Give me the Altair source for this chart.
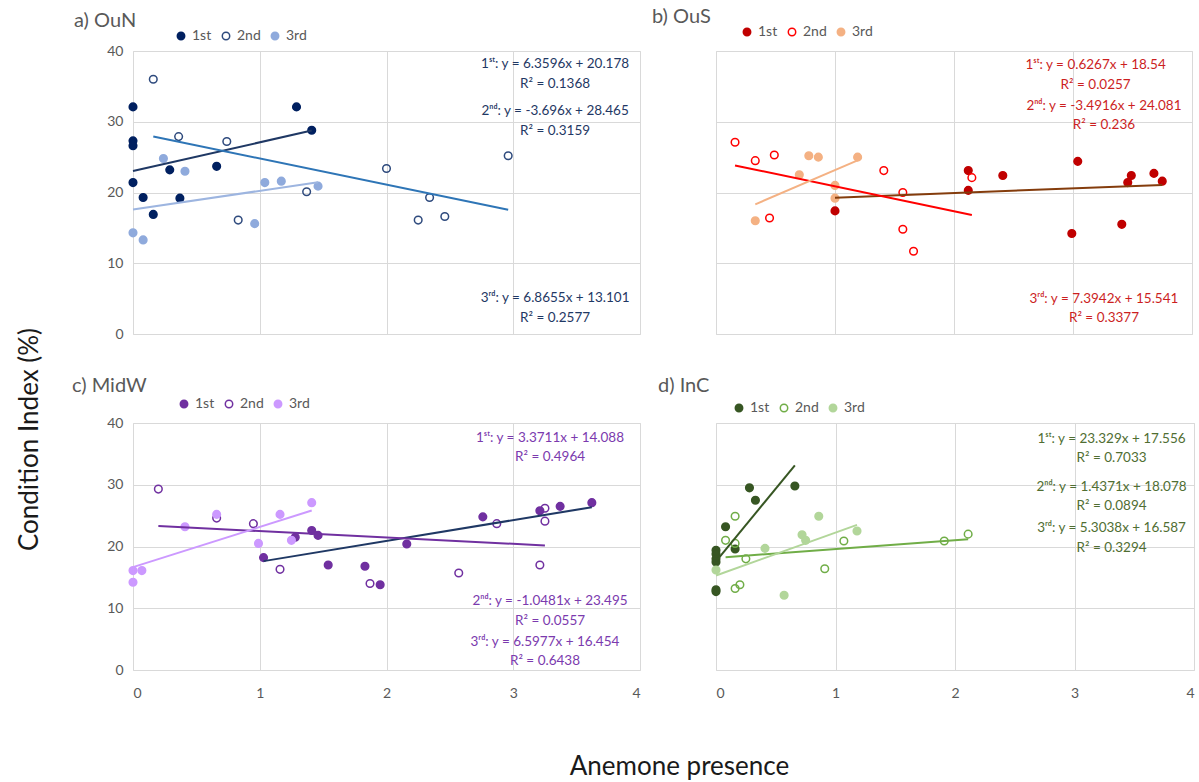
import altair as alt
import pandas as pd

FONT = "Lato"
GRID = "#D9D9D9"
LABEL = "#595959"
SERIES = ["1st", "2nd", "3rd"]

# ---------------- data ----------------
# a) OuN
a1_x = [0, 0, 0, 0, 0.08, 0.16, 0.29, 0.37, 0.66, 1.29, 1.41]
a1_y = [32.1, 27.3, 26.6, 21.4, 19.3, 16.9, 23.2, 19.2, 23.7, 32.1, 28.8]
a2_x = [0.16, 0.36, 0.74, 0.83, 1.37, 2.0, 2.25, 2.34, 2.46, 2.96]
a2_y = [36.0, 27.9, 27.2, 16.1, 20.1, 23.4, 16.1, 19.3, 16.6, 25.2]
a3_x = [0, 0.08, 0.24, 0.41, 0.96, 1.04, 1.17, 1.46]
a3_y = [14.3, 13.3, 24.8, 23.0, 15.6, 21.4, 21.6, 20.9]
a_text = ["1ˢᵗ: y = 6.3596x + 20.178", "R² = 0.1368",
          "2ⁿᵈ: y = -3.696x + 28.465", "R² = 0.3159",
          "3ʳᵈ: y = 6.8655x + 13.101", "R² = 0.2577"]
a_tx = [3.33, 3.33, 3.33, 3.33, 3.33, 3.33]
a_ty = [38.1, 35.3, 31.5, 28.7, 5.1, 2.3]

# b) OuS
b1_x = [1.0, 2.12, 2.12, 2.41, 3.04, 2.99, 3.41, 3.46, 3.49, 3.68, 3.75]
b1_y = [17.4, 23.1, 20.3, 22.4, 24.4, 14.2, 15.5, 21.4, 22.4, 22.7, 21.6]
b2_x = [0.16, 0.33, 0.49, 0.45, 1.41, 1.57, 1.57, 1.66, 2.15]
b2_y = [27.1, 24.5, 25.3, 16.4, 23.1, 20.0, 14.8, 11.7, 22.1]
b3_x = [0.33, 0.70, 0.78, 0.86, 1.0, 1.0, 1.19]
b3_y = [16.0, 22.5, 25.2, 25.0, 21.0, 19.2, 25.0]
b_text = ["1ˢᵗ: y = 0.6267x + 18.54", "R² = 0.0257",
          "2ⁿᵈ: y = -3.4916x + 24.081", "R² = 0.236",
          "3ʳᵈ: y = 7.3942x + 15.541", "R² = 0.3377"]
b_tx = [3.19, 3.19, 3.26, 3.26, 3.26, 3.26]
b_ty = [38.0, 35.2, 32.2, 29.5, 4.9, 2.3]

# c) MidW
c1_x = [1.03, 1.28, 1.41, 1.46, 1.54, 1.83, 1.95, 2.16, 2.76, 3.21, 3.37, 3.62]
c1_y = [18.2, 21.5, 22.6, 21.8, 17.0, 16.8, 13.8, 20.4, 24.8, 25.8, 26.5, 27.1]
c2_x = [0.2, 0.66, 0.95, 1.16, 1.87, 2.57, 2.87, 3.21, 3.25, 3.25]
c2_y = [29.3, 24.6, 23.7, 16.3, 14.0, 15.7, 23.7, 17.0, 26.2, 24.1]
c3_x = [0, 0, 0.07, 0.41, 0.66, 0.99, 1.16, 1.25, 1.41]
c3_y = [14.2, 16.1, 16.1, 23.2, 25.2, 20.5, 25.2, 21.0, 27.1]
c_text = ["1ˢᵗ: y = 3.3711x + 14.088", "R² = 0.4964",
          "2ⁿᵈ: y = -1.0481x + 23.495", "R² = 0.0557",
          "3ʳᵈ: y = 6.5977x + 16.454", "R² = 0.6438"]
c_tx = [3.29, 3.29, 3.29, 3.29, 3.25, 3.25]
c_ty = [37.6, 34.5, 11.2, 7.9, 4.6, 1.5]

# d) InC
d1_x = [0, 0, 0, 0, 0, 0, 0.08, 0.16, 0.28, 0.33, 0.66]
d1_y = [19.4, 18.8, 18.0, 17.5, 13.0, 12.7, 23.2, 19.6, 29.5, 27.5, 29.8]
d2_x = [0.08, 0.16, 0.16, 0.2, 0.16, 0.25, 0.91, 1.07, 1.91, 2.11]
d2_y = [21.0, 24.9, 20.5, 13.8, 13.2, 18.0, 16.4, 20.9, 20.9, 22.0]
d3_x = [0, 0.41, 0.57, 0.72, 0.75, 0.86, 1.18]
d3_y = [16.2, 19.7, 12.1, 21.9, 21.0, 24.9, 22.5]
d_text = ["1ˢᵗ: y = 23.329x + 17.556", "R² = 0.7033",
          "2ⁿᵈ: y = 1.4371x + 18.078", "R² = 0.0894",
          "3ʳᵈ: y = 5.3038x + 16.587", "R² = 0.3294"]
d_tx = [3.31, 3.31, 3.31, 3.31, 3.31, 3.31]
d_ty = [37.4, 34.3, 29.7, 26.6, 23.0, 19.8]

x_ticks = [0, 1, 2, 3, 4]
y_ticks = [0, 10, 20, 30, 40]


def panel(xs, ys, stroke_cols, fill_cols, line_cols, texts, tx, ty, text_col,
          title, title_dx, title_dy, leg_x, leg_y, width, height,
          x_labels, y_labels, x_title=None, y_title=None):
    rows = []
    for name, xv, yv in zip(SERIES, xs, ys):
        for a, b in zip(xv, yv):
            rows.append({"series": name, "x": a, "y": b})
    df = pd.DataFrame(rows)

    xscale = alt.Scale(domain=[0, 4], nice=False, zero=False)
    yscale = alt.Scale(domain=[0, 40], nice=False)

    xaxis_kw = dict(values=x_ticks, grid=True, gridColor=GRID, gridWidth=1,
                    domain=False, ticks=False, tickSize=0, labels=x_labels,
                    labelFont=FONT, labelFontSize=14, labelColor=LABEL,
                    labelPadding=16, title=x_title)
    if x_title:
        xaxis_kw.update(titleFont=FONT, titleFontSize=26, titleFontWeight="normal",
                        titleColor="#1a1a1a", titleX=546, titleY=96,
                        titleAlign="center", titleBaseline="middle")
    yaxis_kw = dict(values=y_ticks, grid=True, gridColor=GRID, gridWidth=1,
                    domain=False, ticks=False, tickSize=0, labels=y_labels,
                    labelFont=FONT, labelFontSize=14, labelColor=LABEL,
                    labelPadding=10, title=y_title)
    if y_title:
        yaxis_kw.update(titleFont=FONT, titleFontSize=26, titleFontWeight="normal",
                        titleColor="#1a1a1a", titleX=-104, titleY=388,
                        titleAngle=270, titleAlign="center", titleBaseline="middle")
    xaxis = alt.Axis(**xaxis_kw)
    yaxis = alt.Axis(**yaxis_kw)

    legend = alt.Legend(orient="none", legendX=leg_x, legendY=leg_y,
                        direction="horizontal", title=None, symbolType="circle",
                        symbolSize=55, symbolStrokeWidth=1.5, labelFont=FONT,
                        labelFontSize=14, labelColor=LABEL, labelOffset=4,
                        columnPadding=7, padding=0)

    pts = alt.Chart(df).mark_point(shape="circle", size=58, strokeWidth=1.5,
                                   opacity=1).encode(
        x=alt.X("x:Q", scale=xscale, axis=xaxis),
        y=alt.Y("y:Q", scale=yscale, axis=yaxis),
        color=alt.Color("series:N", scale=alt.Scale(domain=SERIES, range=stroke_cols),
                        legend=legend),
        fill=alt.Fill("series:N", scale=alt.Scale(domain=SERIES, range=fill_cols),
                      legend=legend),
    )

    lines = []
    for name, col in zip(SERIES, line_cols):
        lines.append(
            alt.Chart(df).transform_filter(alt.datum.series == name)
            .transform_regression("x", "y")
            .mark_line(color=col, strokeWidth=2)
            .encode(x=alt.X("x:Q", scale=xscale, axis=xaxis),
                    y=alt.Y("y:Q", scale=yscale, axis=yaxis))
        )

    ann = pd.DataFrame({"t": texts, "x": tx, "y": ty})
    txt = alt.Chart(ann).mark_text(font=FONT, fontSize=13.5, color=text_col,
                                   align="center", baseline="middle").encode(
        x=alt.X("x:Q", scale=xscale, axis=xaxis),
        y=alt.Y("y:Q", scale=yscale, axis=yaxis), text="t:N")

    return alt.layer(pts, *lines, txt).properties(
        width=width, height=height,
        title=alt.TitleParams(text=title, anchor="start", frame="group",
                              font=FONT, fontSize=20, fontWeight="normal",
                              color=LABEL, dx=title_dx, dy=title_dy, offset=0),
    )


pa = panel([a1_x, a2_x, a3_x], [a1_y, a2_y, a3_y],
           ["#002060", "#2E4A7D", "#8FAADC"], ["#002060", "transparent", "#8FAADC"],
           ["#1F3864", "#2E75B6", "#9DB5E0"], a_text, a_tx, a_ty, "#1F3864",
           "a) OuN", -59, 2, 41, -22, 507, 283, False, True,
           y_title="Condition Index (%)")
pb = panel([b1_x, b2_x, b3_x], [b1_y, b2_y, b3_y],
           ["#C00000", "#FF0000", "#F4B183"], ["#C00000", "transparent", "#F4B183"],
           ["#843C0C", "#FF0000", "#F4B183"], b_text, b_tx, b_ty, "#CC1F1F",
           "b) OuS", -64, 2, 24, -26, 476, 283, False, False)
pc = panel([c1_x, c2_x, c3_x], [c1_y, c2_y, c3_y],
           ["#7030A0", "#7030A0", "#CC99FF"], ["#7030A0", "transparent", "#CC99FF"],
           ["#1F3864", "#7030A0", "#CC99FF"], c_text, c_tx, c_ty, "#7B3AAE",
           "c) MidW", -61, -1, 44, -26, 507, 247, True, True,
           x_title="Anemone presence")
pd_ = panel([d1_x, d2_x, d3_x], [d1_y, d2_y, d3_y],
            ["#375623", "#70AD47", "#B2D69A"], ["#375623", "transparent", "#B2D69A"],
            ["#375623", "#70AD47", "#B2D69A"], d_text, d_tx, d_ty, "#506E32",
            "d) InC", -58, -5, 16, -22, 478, 247, True, False)

chart = alt.concat(pa, pb, pc, pd_, columns=2,
                   spacing={"row": 89, "column": 76}, bounds="flush").resolve_scale(
    color="independent", fill="independent", x="independent", y="independent"
).properties(
    padding={"left": 15, "top": 6, "right": 2, "bottom": 0},
).configure_view(stroke=GRID, strokeWidth=1).configure(background="white")

chart.save("out.html", embed_options={"renderer": "svg", "actions": False})
